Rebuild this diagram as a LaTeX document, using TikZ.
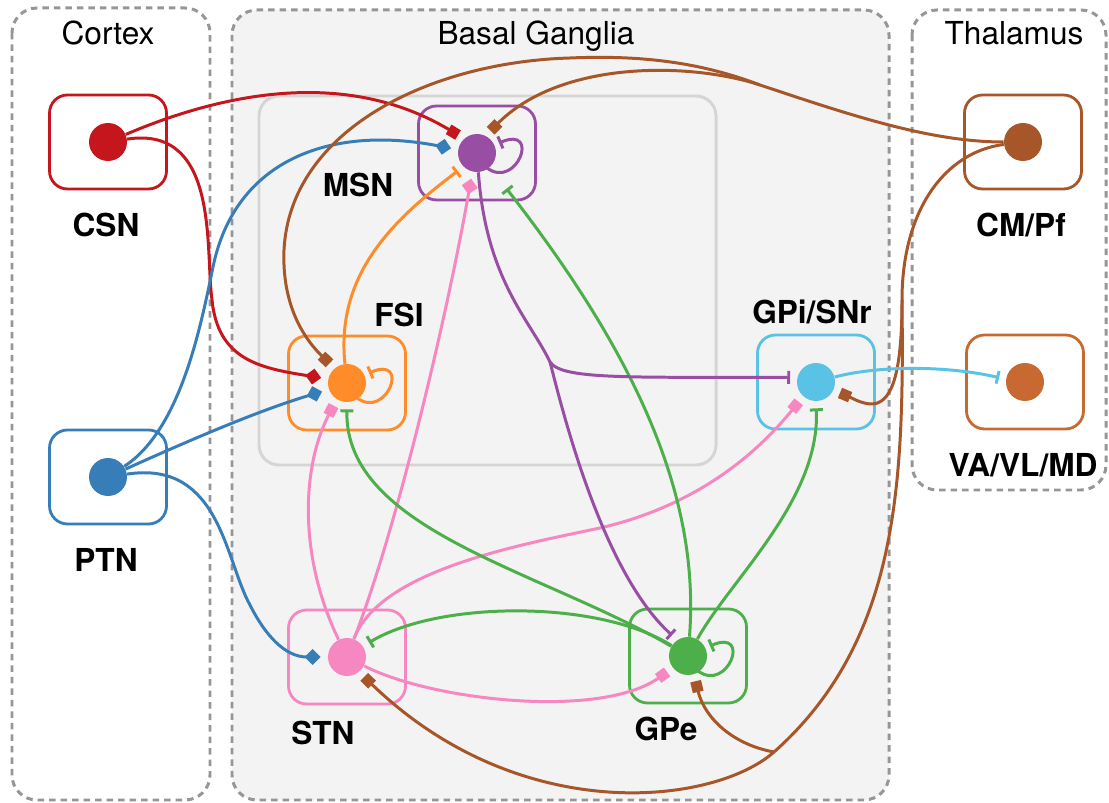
\documentclass[tikz,border=0pt]{standalone}
\usepackage{fontspec}
\setmainfont{TeX Gyre Heros}
\usetikzlibrary{arrows.meta}
\definecolor{csncol}{RGB}{196,22,28}
\definecolor{ptncol}{RGB}{55,126,184}
\definecolor{msncol}{RGB}{152,78,163}
\definecolor{fsicol}{RGB}{255,140,40}
\definecolor{gpicol}{RGB}{90,194,228}
\definecolor{stncol}{RGB}{247,135,192}
\definecolor{gpecol}{RGB}{77,175,74}
\definecolor{cmcol}{RGB}{166,86,40}
\definecolor{vacol}{RGB}{200,105,50}
\definecolor{regcol}{RGB}{150,150,150}
\definecolor{bgcol}{RGB}{243,243,243}
\definecolor{strcol}{RGB}{213,213,213}
\tikzset{
    dot/.style={circle, fill, inner sep=0pt, minimum size=0.76cm}, % cell body
    cell/.style={draw, line width=1.6pt, rounded corners=0.36cm, minimum width=2.34cm, minimum height=1.88cm}, % box round a cell
    lbl/.style={font=\fontsize{18}{22}\selectfont\bfseries, anchor=base},
    ttl/.style={font=\fontsize{18}{22}\selectfont, anchor=base},
    region/.style={draw=regcol, line width=1.7pt, dash pattern=on 0.13cm off 0.1cm, rounded corners=0.5cm},
    wire/.style={line width=1.7pt},
    conn/.style={wire, shorten >=0.14cm},
    exc/.style={conn, -{Turned Square[length=0.32cm, width=0.32cm]}}, % diamond
    mod/.style={conn, -{Square[length=0.22cm, width=0.22cm]}},
    inh/.style={conn, -{Bar[width=0.26cm]}}
}
\begin{document}
\begin{tikzpicture}[x=0.02cm, y=-0.02cm]
    \useasboundingbox (0,0) rectangle (1109,803);

    \draw[region] (12,8) rectangle (210,800);
    \draw[region, fill=bgcol] (232,10) rectangle (889,800);
    \draw[region] (912,10) rectangle (1106,490);
    \draw[strcol, line width=1.7pt, rounded corners=0.4cm] (259,96) rectangle (716,465);
    \node[ttl] (cortex) at (108,45) {Cortex};
    \node[ttl] (bg) at (536,45) {Basal Ganglia};
    \node[ttl] (thal) at (1014,45) {Thalamus};

    \foreach \n/\x/\y/\c in {csn/108/142/csncol, ptn/108/477/ptncol, msn/477/153/msncol, fsi/347/383/fsicol, gpi/816/382/gpicol, stn/347/657/stncol, gpe/688/656/gpecol, cm/1023/142/cmcol, va/1025/382/vacol} {
        \node[cell, draw=\c] (\n box) at (\x,\y) {};
        \node[dot, fill=\c] (\n) at (\x,\y) {};
    }
    \node[lbl] (csnlbl) at (106,237) {CSN};
    \node[lbl] (ptnlbl) at (106,572) {PTN};
    \node[lbl] (msnlbl) at (358,197) {MSN};
    \node[lbl] (fsilbl) at (399,327) {FSI};
    \node[lbl] (gpilbl) at (812,324) {GPi/SNr};
    \node[lbl] (stnlbl) at (323,744) {STN};
    \node[lbl] (gpelbl) at (666,740) {GPe};
    \node[lbl] (cmlbl) at (1021,237) {CM/Pf};
    \node[lbl] (valbl) at (1023,477) {VA/VL/MD};

    % cortex
    \draw[mod, csncol] (csn) .. controls (230,90) and (350,70) .. (msn.132);
    \draw[exc, csncol] (csn) .. controls (220,125) and (205,250) .. (212,300) .. controls (218,360) and (260,368) .. (fsi.168);
    \draw[exc, ptncol] (ptn) .. controls (180,430) and (200,330) .. (213,267) .. controls (235,160) and (330,125) .. (msn.170);
    \draw[exc, ptncol] (ptn) .. controls (190,440) and (260,410) .. (fsi.200);
    \draw[exc, ptncol] (ptn) .. controls (220,460) and (225,560) .. (250,605) .. controls (265,635) and (285,657) .. (stn.180);

    % striatum
    \draw[inh, fsicol] (fsi) .. controls (335,270) and (400,215) .. (msn.225);
    \draw[exc, stncol] (stn) .. controls (400,520) and (450,300) .. (msn.256);
    \draw[mod, stncol] (stn) .. controls (300,560) and (300,470) .. (fsi.238);
    \draw[mod, stncol] (stn) .. controls (380,570) and (520,545) .. (600,528) .. controls (700,505) and (760,450) .. (gpi.228);
    \draw[mod, stncol] (stn) .. controls (430,700) and (600,720) .. (gpe.218);

    % GPe
    \draw[inh, gpecol, shorten >=0.54cm] (gpe) .. controls (700,500) and (640,360) .. (msn.-48);
    \draw[inh, gpecol] (gpe) .. controls (730,580) and (820,500) .. (gpi.270);
    \draw[inh, gpecol] (gpe) .. controls (540,570) and (345,530) .. (fsi.270);
    \draw[inh, gpecol] (gpe) .. controls (600,600) and (440,600) .. (stn.34);

    % MSN
    \coordinate (msnfork) at (550,362);
    \draw[wire, msncol] (msn) .. controls (486,280) and (530,320) .. (msnfork);
    \draw[inh, msncol] (msnfork) .. controls (562,380) and (630,377) .. (gpi.166);
    \draw[inh, msncol] (msnfork) .. controls (560,400) and (600,570) .. (gpe.124);

    % CM/Pf
    \coordinate (cmtop) at (760,85);
    \coordinate (cmbend) at (902,300);
    \coordinate (cmfork) at (774,752);
    \draw[wire, cmcol] (cm) .. controls (930,142) and (850,115) .. (cmtop);
    \draw[mod, cmcol] (cmtop) .. controls (690,62) and (560,60) .. (msn.63);
    \draw[mod, cmcol] (cmtop) .. controls (700,62) and (640,55) .. (570,58) .. controls (430,62) and (290,130) .. (284,250) .. controls (282,300) and (300,335) .. (fsi.130);
    \draw[wire, cmcol] (cm) .. controls (945,152) and (902,210) .. (cmbend) .. controls (904,480) and (900,640) .. (cmfork);
    \draw[mod, cmcol] (cmbend) .. controls (902,380) and (890,405) .. (870,404) .. controls (860,403) and (852,398) .. (gpi.-25);
    \draw[mod, cmcol] (cmfork) .. controls (714,805) and (520,828) .. (stn.-51);
    \draw[mod, cmcol] (cmfork) .. controls (735,745) and (705,720) .. (gpe.-72);

    % GPi
    \draw[inh, gpicol] (gpi) .. controls (880,365) and (950,366) .. (va.172);

    \foreach \n/\c in {msn/msncol, fsi/fsicol, gpe/gpecol}
        \draw[wire, \c, -{Bar[width=0.26cm]}] ([shift={(10,15)}]\n.center) .. controls +(30,22) and +(42,-18) .. ([shift={(22,-10)}]\n.center);
\end{tikzpicture}
\end{document}
